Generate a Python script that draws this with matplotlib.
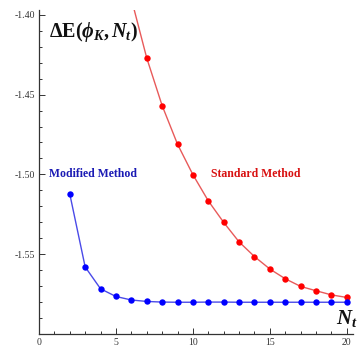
import matplotlib
matplotlib.use("Agg")
import matplotlib.pyplot as plt
from matplotlib.ticker import MultipleLocator, FormatStrFormatter, FixedLocator

plt.rcParams['mathtext.fontset'] = 'custom'
plt.rcParams['mathtext.rm'] = 'Liberation Serif:bold'
plt.rcParams['mathtext.bf'] = 'Liberation Serif:bold'
plt.rcParams['mathtext.it'] = 'Liberation Serif:bold:italic'
plt.rcParams['axes.unicode_minus'] = False

# Data
nt_modified = [2, 3, 4, 5, 6, 7, 8, 9, 10, 11, 12, 13, 14, 15, 16, 17, 18, 19, 20]
de_modified = [-1.5123, -1.5580, -1.5717, -1.5765, -1.5787, -1.5796, -1.5800, -1.5801,
               -1.5801, -1.5800, -1.5800, -1.5801, -1.5801, -1.5801, -1.5801, -1.5801,
               -1.5801, -1.5801, -1.5801]
nt_standard = [6, 7, 8, 9, 10, 11, 12, 13, 14, 15, 16, 17, 18, 19, 20]
de_standard = [-1.3900, -1.4271, -1.4569, -1.4811, -1.5002, -1.5166, -1.5301, -1.5423,
               -1.5515, -1.5593, -1.5654, -1.5702, -1.5729, -1.5755, -1.5771]
x_ticks = [0, 5, 10, 15, 20]
y_ticks = [-1.55, -1.50, -1.45, -1.40]

W, H = 359, 347
fig = plt.figure(figsize=(W / 100, H / 100), dpi=100)
ax = fig.add_axes([39 / W, 13 / H, (353 - 39) / W, (337 - 13) / H])

ax.plot(nt_standard, de_standard, color='#e85a5a', lw=1.0, zorder=2)
ax.plot(nt_standard, de_standard, 'o', color='#ff0000', ms=4.6, mec='none', zorder=3)
ax.plot(nt_modified, de_modified, color='#4a4ae8', lw=1.0, zorder=2)
ax.plot(nt_modified, de_modified, 'o', color='#0000ff', ms=4.6, mec='none', zorder=3)

ax.set_xlim(0.0, 20.4)
ax.set_ylim(-1.6, -1.397)

for s in ['top', 'right']:
    ax.spines[s].set_visible(False)
for s in ['left', 'bottom']:
    ax.spines[s].set_color('#333333')
    ax.spines[s].set_linewidth(0.9)

ax.xaxis.set_major_locator(FixedLocator(x_ticks))
ax.xaxis.set_minor_locator(MultipleLocator(1))
ax.yaxis.set_major_locator(FixedLocator(y_ticks))
ax.yaxis.set_minor_locator(MultipleLocator(0.01))
ax.yaxis.set_major_formatter(FormatStrFormatter('%.2f'))
ax.xaxis.set_major_formatter(FormatStrFormatter('%d'))

ax.tick_params(which='both', direction='in', colors='#333333', labelcolor='#333333',
               labelsize=7, width=0.7)
ax.tick_params(which='major', length=4, pad=3)
ax.tick_params(which='minor', length=2.2)
for lab in ax.get_xticklabels() + ax.get_yticklabels():
    lab.set_family('Liberation Serif')

ax.text(0.65, -1.4107, r'$\Delta\mathrm{E}(\phi_K,N_t)$', fontsize=14.5,
        va='center', ha='left', color='#111111')
ax.text(0.67, -1.5, 'Modified Method', fontsize=8.5, fontweight='bold',
        family='Liberation Serif', color='#1a1ab4', va='center', ha='left')
ax.text(11.2, -1.5, 'Standard Method', fontsize=8.5, fontweight='bold',
        family='Liberation Serif', color='#d81010', va='center', ha='left')
ax.text(19.3, -1.5905, r'$N_t$', fontsize=15, va='center', ha='left', color='#111111')

fig.savefig('out.png', dpi=100)
